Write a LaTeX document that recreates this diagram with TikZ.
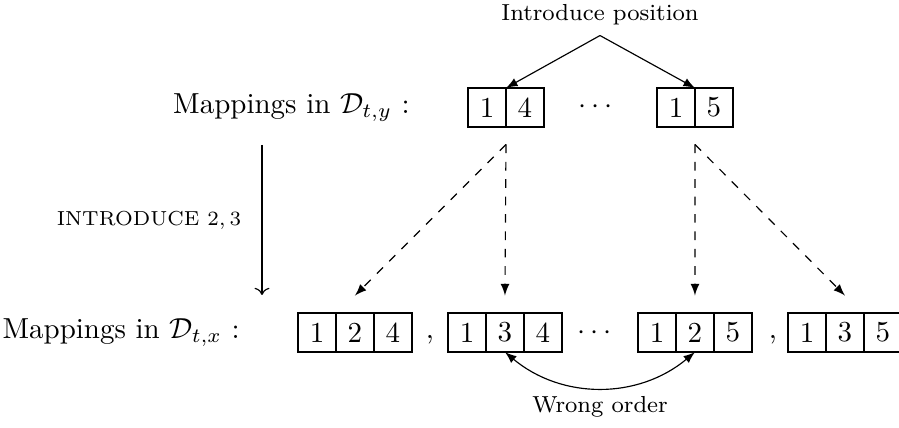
\documentclass[tikz,border=0pt]{standalone}
\usepackage{amsmath,amssymb}
\usepackage{tikz}
\usetikzlibrary{arrows.meta,positioning}

\begin{document}
\begin{tikzpicture}[
  x=0.345pt,y=0.345pt,
  node distance=0pt,
  cell/.style={draw,minimum width=13.1pt,minimum height=13.5pt,inner sep=0pt,outer sep=0pt},
  arr/.style={-latex},
  dasharr/.style={-latex,dashed},
  note/.style={font=\footnotesize}
]
\useasboundingbox (0,0) rectangle (899,428);
% top row
\node[anchor=east] (maptop) at (420,320.5) {Mappings in $\mathcal{D}_{t,y}$ :};
\node[cell] (a1) at (487,320.5) {1};
\node[cell,right=of a1] (a2) {4};
\node (topdots) at (598,321) {$\cdots$};
\node[cell] (b1) at (676,320.5) {1};
\node[cell,right=of b1] (b2) {5};
\node[note] (intro) at (600,413) {Introduce position};
\draw[arr] (intro.south) -- (a1.north east);
\draw[arr] (intro.south) -- (b1.north east);
% bottom row
\node[anchor=east] (mapbot) at (250,95.5) {Mappings in $\mathcal{D}_{t,x}$ :};
\node[cell] (c1) at (317,95.5) {1};
\node[cell,right=of c1] (c2) {2};
\node[cell,right=of c2] (c3) {4};
\node (comma1) at (430,88) {,};
\node[cell] (d1) at (467,95.5) {1};
\node[cell,right=of d1] (d2) {3};
\node[cell,right=of d2] (d3) {4};
\node (botdots) at (597,95) {$\cdots$};
\node[cell] (e1) at (657,95.5) {1};
\node[cell,right=of e1] (e2) {2};
\node[cell,right=of e2] (e3) {5};
\node (comma2) at (773,88) {,};
\node[cell] (f1) at (807,95.5) {1};
\node[cell,right=of f1] (f2) {3};
\node[cell,right=of f2] (f3) {5};
% introduce step
\coordinate (stepin) at (262,283);
\coordinate (stepout) at (262,133);
\draw[->] (stepin) -- (stepout);
\node[font=\scriptsize] (steplbl) at (149,208) {INTRODUCE $2,3$};
\draw[dasharr] ([yshift=-6pt]a1.south east) -- ([yshift=6pt]c2.north);
\draw[dasharr] ([yshift=-6pt]a1.south east) -- ([yshift=6pt]d2.north);
\draw[dasharr] ([yshift=-6pt]b1.south east) -- ([yshift=6pt]e2.north);
\draw[dasharr] ([yshift=-6pt]b1.south east) -- ([yshift=6pt]f2.north);
\draw[latex-latex] (d2.south) to[bend right=40] (e2.south);
\node[note] (wrong) at (600,21) {Wrong order};
\end{tikzpicture}
\end{document}
